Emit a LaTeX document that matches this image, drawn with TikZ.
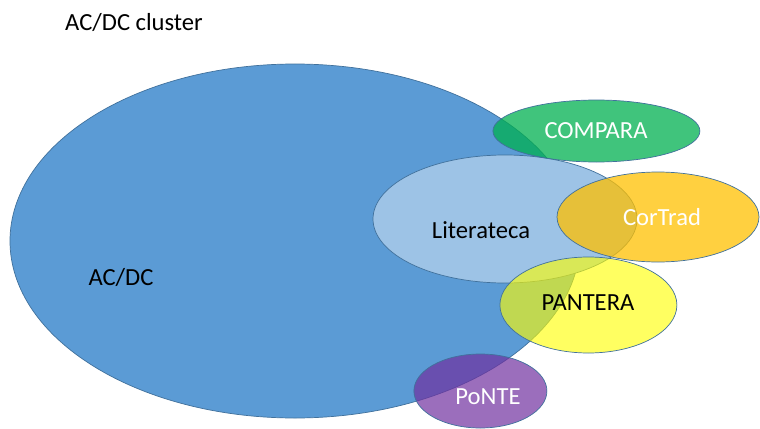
\documentclass[tikz,border=0pt]{standalone}
\usepackage{fontspec}
\setmainfont{Carlito}
\usepackage{tikz}

\definecolor{acdcblue}{HTML}{5B9BD5}
\definecolor{edgeblue}{HTML}{41719C}
\definecolor{litblue}{HTML}{9DC3E6}
\definecolor{compgreen}{HTML}{00B050}
\definecolor{cortorange}{HTML}{FFC000}
\definecolor{pantyellow}{HTML}{FFFF00}
\definecolor{pontpurple}{HTML}{7030A0}

\tikzset{
    blob/.style={draw=edgeblue, line width=0.5pt},
    lbl/.style={inner sep=0pt, font=\fontsize{17.5}{21}\selectfont}
}

\begin{document}
\begin{tikzpicture}[scale=1.0]
        \useasboundingbox (0, 0) rectangle (19, 10.7);
        \node [lbl] (title) at (3.35, 10.15) {AC/DC cluster};

        \draw [blob, fill=acdcblue] (7.375, 4.675) ellipse (7.125 and 4.425);
        \draw [blob, fill=litblue] (12.625, 5.225) ellipse (3.3 and 1.6);
        \draw [blob, fill=compgreen, fill opacity=0.75] (14.91, 7.425) ellipse (2.5875 and 0.775);
        \draw [blob, fill=cortorange, fill opacity=0.75] (16.45, 5.275) ellipse (2.525 and 1.125);
        \draw [blob, fill=pantyellow, fill opacity=0.62] (14.71, 3.075) ellipse (2.2125 and 1.2);
        \draw [blob, fill=pontpurple, fill opacity=0.7] (12.01, 0.925) ellipse (1.6625 and 0.925);

        \node [lbl] (acdc) at (3.025, 3.775) {AC/DC};
        \node [lbl] (lit) at (12.025, 4.95) {Literateca};
        \node [lbl, white] (comp) at (14.9, 7.425) {COMPARA};
        \node [lbl, white] (cort) at (16.55, 5.275) {CorTrad};
        \node [lbl] (pant) at (14.7, 3.125) {PANTERA};
        \node [lbl, white] (pont) at (12.2, 0.775) {PoNTE};
\end{tikzpicture}
\end{document}
